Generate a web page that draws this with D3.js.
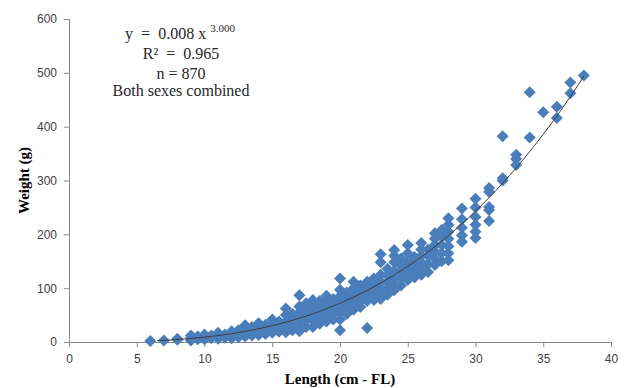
<!DOCTYPE html>
<html>
<head>
<meta charset="utf-8">
<script src="https://cdn.jsdelivr.net/npm/d3@7"></script>
<style>
  html, body { margin: 0; padding: 0; background: #fff; }
  svg { display: block; }
  text.pre { white-space: pre; }
</style>
</head>
<body>
<svg id="chart" width="628" height="388"></svg>
<script>
// ---- Data ----
const lengthClasses = [6, 7, 8, 9, 9.5, 10, 10.5, 11, 11.5, 12, 12.5, 13, 13.5, 14, 14.5, 15, 15.5, 16, 16.5, 17, 17.5, 18, 18.5, 19, 19.5, 20, 20.5, 21, 21.5, 22, 22.5, 23, 23.5, 24, 24.5, 25, 25.5, 26, 26.5, 27, 27.5, 28, 29, 30, 31, 32, 33, 34, 35, 36, 37, 38];
const weightsByLength = [
  [2], [3], [4, 6], [3, 8, 12], [5, 10], [5, 10, 14], [7, 12], [6, 11, 17], [8, 14],
  [7, 13, 20], [9, 16, 22], [10, 18, 26, 31], [12, 20, 28], [13, 20, 28, 35], [15, 24, 32],
  [17, 26, 35, 42], [19, 28, 38], [18, 28, 38, 50, 62], [22, 33, 44, 52],
  [20, 30, 42, 55, 66, 87], [28, 40, 50, 60, 72], [28, 40, 52, 62, 72, 78], [34, 46, 56, 66, 76],
  [38, 48, 58, 68, 78, 86], [42, 52, 62, 72, 80], [22, 42, 55, 65, 75, 85, 97, 118],
  [52, 62, 72, 82, 92], [60, 70, 80, 90, 100, 112], [65, 75, 85, 95, 105],
  [26, 76, 84, 92, 102, 112], [78, 88, 98, 108, 118], [80, 90, 100, 112, 125, 148, 163],
  [88, 100, 112, 124, 136], [96, 108, 120, 132, 148, 160, 171], [105, 118, 130, 142, 155],
  [115, 126, 138, 150, 165, 180], [120, 132, 145, 158], [125, 136, 148, 160, 172, 184],
  [130, 145, 160, 172], [143, 155, 168, 180, 192, 202], [150, 165, 180, 196, 208],
  [152, 165, 178, 192, 205, 218, 230], [186, 198, 212, 228, 248], [193, 205, 218, 232, 250, 266],
  [225, 245, 251, 279, 286], [300, 304, 382], [329, 340, 348], [380, 464], [427], [416, 437], [462, 482], [495]
];
const xTicks = [0, 5, 10, 15, 20, 25, 30, 35, 40];
const yTicks = [0, 100, 200, 300, 400, 500, 600];
const trendCoef = [0.009, 3.0];   // power trendline drawn on the chart
const trendRange = [6.5, 38];
const annotation = ["R\u00B2  =  0.965", "n = 870", "Both sexes combined"];

// ---- Build points ----
const points = [];
lengthClasses.forEach((L, i) => weightsByLength[i].forEach(w => points.push({ L, w })));

// ---- Layout ----
const svg = d3.select("#chart");
const plot = { left: 69, right: 611, top: 19, bottom: 342 };
const x = d3.scaleLinear().domain([0, 40]).range([plot.left, plot.right]);
const y = d3.scaleLinear().domain([0, 600]).range([plot.bottom, plot.top]);

const axisColor = "#868686";
const tickFont = "'Liberation Sans', Arial, sans-serif";
const serif = "'Liberation Serif', 'Times New Roman', serif";

// Y axis
const yAxis = svg.append("g").attr("transform", `translate(${plot.left},0)`)
  .call(d3.axisLeft(y).tickValues(yTicks).tickSize(5).tickPadding(7).tickFormat(d3.format("d")));
// X axis
const xAxis = svg.append("g").attr("transform", `translate(0,${plot.bottom})`)
  .call(d3.axisBottom(x).tickValues(xTicks).tickSize(5).tickPadding(7).tickFormat(d3.format("d")));
[yAxis, xAxis].forEach(g => {
  g.select(".domain").attr("stroke", axisColor).attr("stroke-width", 1);
  g.selectAll(".tick line").attr("stroke", axisColor);
  g.selectAll(".tick text").attr("fill", "#404040").style("font-family", tickFont).style("font-size", "12px");
});

// Points (square diamonds)
const r = 6;
const diamondPath = `M0,${-r}L${r},0L0,${r}L${-r},0Z`;
svg.append("g").selectAll("path.pt").data(points).join("path")
  .attr("class", "pt")
  .attr("d", diamondPath)
  .attr("transform", d => `translate(${x(d.L)},${y(d.w)})`)
  .attr("fill", "#4A7EBB");

// Trendline
const trendData = d3.range(trendRange[0], trendRange[1] + 0.001, 0.25).map(L => ({ L, w: trendCoef[0] * Math.pow(L, trendCoef[1]) }));
svg.append("path").datum(trendData)
  .attr("d", d3.line().x(d => x(d.L)).y(d => y(d.w)).curve(d3.curveMonotoneX))
  .attr("fill", "none").attr("stroke", "#3a3a3a").attr("stroke-width", 1);

// Annotation
const ann = svg.append("g").attr("font-family", serif).attr("fill", "#262626").attr("font-size", 16);
const eq = ann.append("text").attr("class", "pre").attr("xml:space", "preserve")
  .attr("x", 180).attr("y", 39).attr("text-anchor", "middle");
eq.append("tspan").text("y  =  0.008 x ");
eq.append("tspan").attr("dy", -7).attr("font-size", 11).text("3.000");
annotation.forEach((t, i) => {
  ann.append("text").attr("class", "pre").attr("xml:space", "preserve")
    .attr("x", 181).attr("y", [59, 79, 96][i]).attr("text-anchor", "middle").text(t);
});

// Axis titles
svg.append("text").attr("transform", `translate(29,${(plot.top + plot.bottom) / 2}) rotate(-90)`)
  .attr("text-anchor", "middle").attr("font-family", serif).attr("font-weight", "bold")
  .attr("font-size", 15).attr("fill", "#000").text("Weight (g)");
svg.append("text").attr("x", (plot.left + plot.right) / 2).attr("y", 384)
  .attr("text-anchor", "middle").attr("font-family", serif).attr("font-weight", "bold")
  .attr("font-size", 15).attr("fill", "#000").text("Length (cm - FL)");
</script>
</body>
</html>
